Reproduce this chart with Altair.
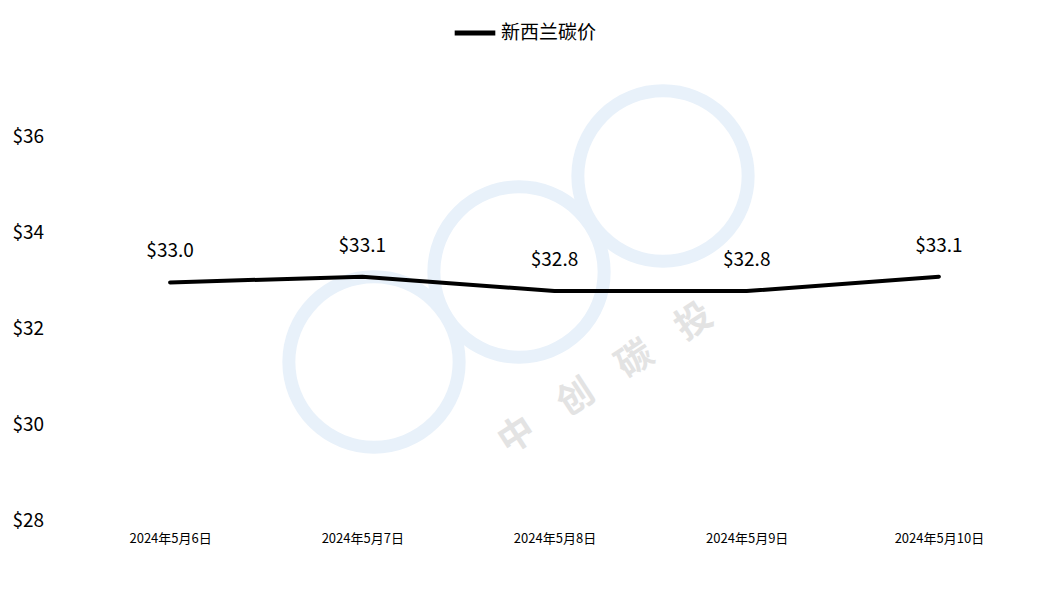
import altair as alt
import pandas as pd

dates = ["2024年5月6日", "2024年5月7日", "2024年5月8日", "2024年5月9日", "2024年5月10日"]
prices = [32.96, 33.08, 32.78, 32.78, 33.08]
series_name = "新西兰碳价"
y_ticks = [28, 30, 32, 34, 36]

FONT = "Noto Sans CJK SC"

df = pd.DataFrame({"date": dates, "price": prices, "series": [series_name] * len(dates)})

# faint watermark (decorative)
wm_rings = pd.DataFrame({"cx": [374, 519, 663], "cy": [362, 272, 176]})
wm_chars = pd.DataFrame({"t": ["中", "创", "碳", "投"], "cx": [517, 576, 635, 694], "cy": [436, 398, 360, 322]})
px_x = alt.Scale(domain=[74, 1035])
px_y = alt.Scale(domain=[520, 41])
rings = alt.Chart(wm_rings).mark_point(
    shape="circle", filled=False, size=29000, strokeWidth=13, color="#e8f1fa", opacity=1
).encode(
    x=alt.X("cx:Q", scale=px_x, axis=None),
    y=alt.Y("cy:Q", scale=px_y, axis=None),
)
wm_text = alt.Chart(wm_chars).mark_text(
    font=FONT, fontSize=36, color="#e3e3e3", angle=327, fontWeight="bold"
).encode(
    x=alt.X("cx:Q", scale=px_x, axis=None),
    y=alt.Y("cy:Q", scale=px_y, axis=None),
    text="t:N",
)
watermark = alt.layer(rings, wm_text)

base = alt.Chart(df).encode(
    x=alt.X(
        "date:N",
        sort=dates,
        title=None,
        axis=alt.Axis(
            labelAngle=0, labelFontSize=13, labelColor="black", labelFont=FONT,
            domain=False, ticks=False, labelPadding=12, grid=False,
        ),
    ),
    y=alt.Y(
        "price:Q",
        title=None,
        scale=alt.Scale(domain=[28, 38], nice=False, zero=False),
        axis=alt.Axis(
            values=y_ticks, format="$,.0f", labelAlign="left", labelPadding=62,
            labelFontSize=19, labelColor="black", labelFont=FONT,
            domain=False, ticks=False, grid=False,
        ),
    ),
)

line = base.mark_line(strokeWidth=4, interpolate="linear", strokeJoin="round", strokeCap="round").encode(
    color=alt.Color(
        "series:N",
        scale=alt.Scale(range=["black"]),
        legend=alt.Legend(
            title=None, orient="none", legendX=378, legendY=-31,
            symbolType="stroke", symbolStrokeWidth=5, symbolSize=1650,
            labelFontSize=19, labelFont=FONT, labelColor="black", symbolStrokeColor="black",
            labelOffset=3,
        ),
    )
)

labels = base.mark_text(dy=-31, fontSize=19, font=FONT, color="black").encode(
    text=alt.Text("price:Q", format="$.1f")
)

main = alt.layer(line, labels)

chart = alt.layer(watermark, main).resolve_scale(x="independent", y="independent").properties(
    width=961, height=479,
    autosize=alt.AutoSizeParams(type="none"),
    padding={"left": 66, "top": 33, "right": 0, "bottom": 40},
).configure_view(stroke=None)

chart.save("out.html", embed_options={"renderer": "svg", "actions": False})
